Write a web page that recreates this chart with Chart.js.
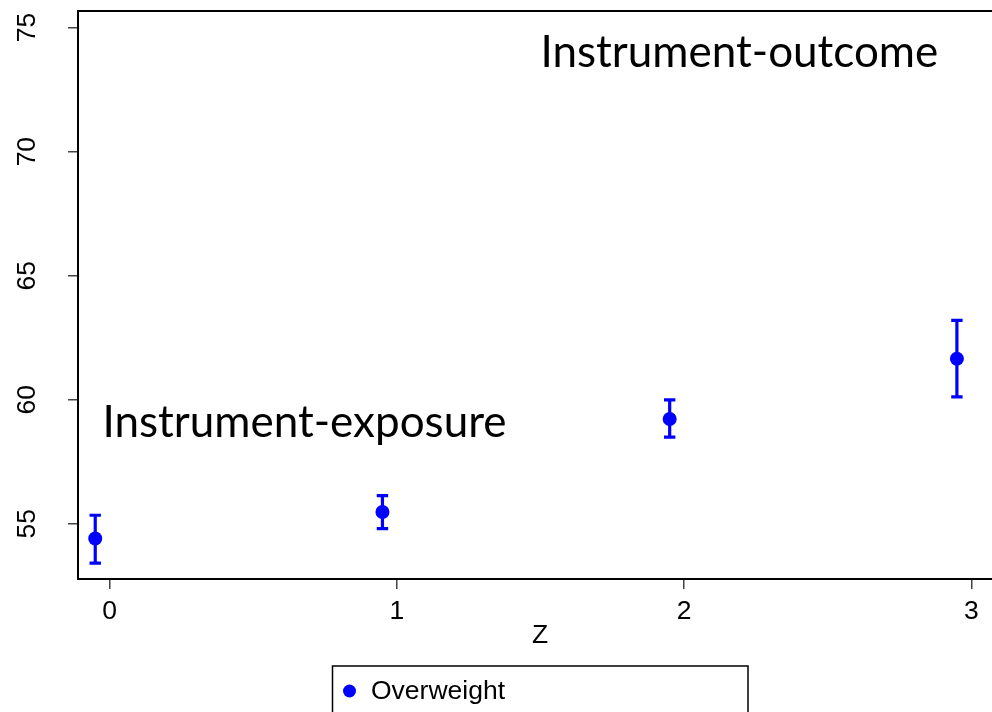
<!DOCTYPE html>
<html><head><meta charset="utf-8">
<script src="https://cdn.jsdelivr.net/npm/chart.js@4"></script>
<style>html,body{margin:0;padding:0;background:#fff;overflow:hidden}#wrap{width:992px;height:712px;position:relative;overflow:hidden}canvas{display:block}</style>
</head><body><div id="wrap"><canvas id="c" width="1040" height="712"></canvas></div>
<script>
const seriesLabel = 'Overweight';
const xAxisTitle = 'Z';
const zValues = [-0.05, 0.95, 1.95, 2.95];
const meanValues = [54.40, 55.47, 59.22, 61.65];
const lowerValues = [53.41, 54.80, 58.49, 60.11];
const upperValues = [55.34, 56.13, 59.99, 63.20];
const xTickValues = [0, 1, 2, 3];
const yTickValues = [55, 60, 65, 70, 75];
const annotationTexts = ['Instrument-outcome', 'Instrument-exposure'];
const annotationX = [1.5, -0.025];
const annotationY = [73.40, 58.51];

const BLUE = '#0000FF';
const tickFont = {family: "'Liberation Sans', Arial, sans-serif", size: 26.5};
const PLOT_RIGHT = 1002; // plot region continues past the visible window edge

const errorBars = {
  id: 'errorBars',
  afterDatasetsDraw(chart) {
    const {ctx, scales: {x, y}} = chart;
    ctx.save();
    ctx.strokeStyle = BLUE;
    ctx.lineWidth = 3.2;
    ctx.lineCap = 'butt';
    zValues.forEach((z, i) => {
      const px = x.getPixelForValue(z);
      const pt = y.getPixelForValue(upperValues[i]);
      const pb = y.getPixelForValue(lowerValues[i]);
      ctx.beginPath();
      ctx.moveTo(px, pt); ctx.lineTo(px, pb);
      ctx.moveTo(px - 5.7, pt); ctx.lineTo(px + 5.7, pt);
      ctx.moveTo(px - 5.7, pb); ctx.lineTo(px + 5.7, pb);
      ctx.stroke();
    });
    ctx.restore();
  }
};

const frame = {
  id: 'frame',
  afterDraw(chart) {
    const {ctx, chartArea: a, scales: {x, y}} = chart;
    ctx.save();
    ctx.strokeStyle = '#000';
    ctx.lineWidth = 2;
    ctx.strokeRect(a.left, a.top, a.right - a.left, a.bottom - a.top);
    ctx.fillStyle = '#000';
    ctx.font = "44px Lato, 'Open Sans', sans-serif";
    ctx.textAlign = 'left';
    ctx.textBaseline = 'alphabetic';
    annotationTexts.forEach((t, i) => {
      ctx.fillText(t, x.getPixelForValue(annotationX[i]), y.getPixelForValue(annotationY[i]));
    });
    const ds = chart.data.datasets[0];
    ctx.lineWidth = 1.5;
    ctx.strokeRect(332.5, 666, 415.5, 80);
    ctx.fillStyle = ds.backgroundColor;
    ctx.beginPath();
    ctx.arc(349.5, 691, 6.5, 0, Math.PI * 2);
    ctx.fill();
    ctx.fillStyle = '#000';
    ctx.font = "26.5px 'Liberation Sans', Arial, sans-serif";
    ctx.textBaseline = 'middle';
    ctx.fillText(ds.label, 371, 692);
    ctx.restore();
  }
};

const chart = new Chart(document.getElementById('c'), {
  type: 'scatter',
  data: {
    datasets: [{
      label: seriesLabel,
      data: zValues.map((z, i) => ({x: z, y: meanValues[i]})),
      backgroundColor: BLUE,
      borderColor: BLUE,
      borderWidth: 0,
      pointRadius: 7,
      pointHoverRadius: 7
    }]
  },
  options: {
    responsive: false,
    animation: false,
    devicePixelRatio: 1,
    layout: {padding: {top: 11, right: 38, left: 0, bottom: 0}},
    plugins: {legend: {display: false}, tooltip: {enabled: false}},
    scales: {
      x: {
        type: 'linear',
        min: -0.11, max: 3.107,
        afterBuildTicks: s => { s.ticks = xTickValues.map(v => ({value: v})); },
        afterFit: s => { s.height = 133; s.paddingLeft = 0; s.paddingRight = 0; },
        grid: {drawOnChartArea: false, drawTicks: true, tickLength: 10, color: '#444', lineWidth: 1.5},
        border: {display: false},
        ticks: {font: tickFont, color: '#000', padding: 7, maxRotation: 0, minRotation: 0, includeBounds: false},
        title: {display: true, text: xAxisTitle, font: tickFont, color: '#000', padding: {top: 0, bottom: 60}}
      },
      y: {
        type: 'linear',
        min: 52.77, max: 75.67,
        afterBuildTicks: s => { s.ticks = yTickValues.map(v => ({value: v})); },
        afterFit: s => { s.width = 78; s.paddingTop = 0; s.paddingBottom = 0; },
        grid: {drawOnChartArea: false, drawTicks: true, tickLength: 10, color: '#444', lineWidth: 1.5},
        border: {display: false},
        ticks: {font: tickFont, color: '#000', padding: 25.5, minRotation: 90, maxRotation: 90, crossAlign: 'center', includeBounds: false}
      }
    }
  },
  plugins: [errorBars, frame]
});
const diff = chart.chartArea.right - PLOT_RIGHT;
if (Math.abs(diff) > 0.5) {
  chart.options.layout.padding.right += diff;
  chart.update();
}
</script>
</body></html>
